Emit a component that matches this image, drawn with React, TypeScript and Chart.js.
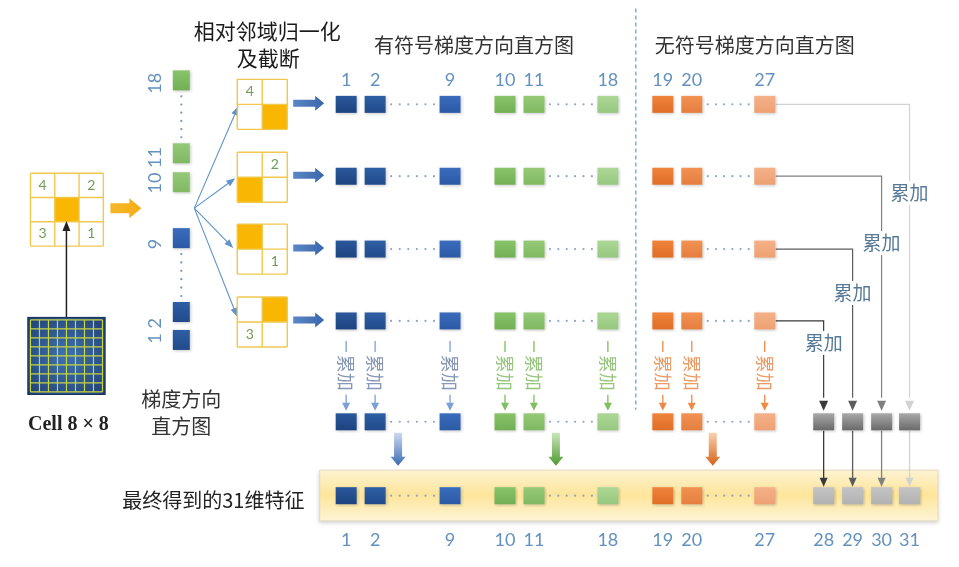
import React, { useEffect, useRef } from 'react';
import { Chart, registerables } from 'chart.js';
Chart.register(...registerables);

// ---------------- data ----------------
const signedBins = [1, 2, 9];
const signedBins2 = [10, 11, 18];
const unsignedBins = [19, 20, 27];
const textureBins = [28, 29, 30, 31];
const cellHistBins = [1, 2, 9, 10, 11, 18];
const cellHistLabels = ['1 2', '9', '10 11', '18'];
const normBlockLabels = ['4', '2', '1', '3'];
const neighbourLabels = ['4', '2', '3', '1'];
const titleNorm = ['相对邻域归一化', '及截断'];
const titleSigned = '有符号梯度方向直方图';
const titleUnsigned = '无符号梯度方向直方图';
const titleHist = ['梯度方向', '直方图'];
const titleCell = 'Cell 8 × 8';
const titleFinal = '最终得到的31维特征';
const accumText = '累加';

// ---------------- layout ----------------
const W = 959, H = 567;
const COL_X: Record<number, number> = {
  1: 346, 2: 375, 9: 450, 10: 505, 11: 534, 18: 608, 19: 663, 20: 692, 27: 765,
  28: 824, 29: 853, 30: 882, 31: 910,
};
const ROW_Y = [104, 176, 249, 321];
const ACC_Y = 422, FINAL_Y = 496, TOP_LABEL_Y = 80, BOTTOM_LABEL_Y = 541;
const HIST_X = 181;
const HIST_Y: Record<number, number> = { 18: 80, 11: 153, 10: 182, 9: 238, 2: 312, 1: 340 };
const HIST_LABEL_Y = [331, 244, 170, 83];
const GRID2_TOP = [79, 152, 224, 297];
const GRID2_LEFT = 237, CELL2 = 25;
const LABEL_Q = [0, 1, 3, 2];
const FILL_Q = [3, 2, 0, 1];
const TEX_FOR_ROW = [31, 30, 29, 28];
const TEX_LABEL_Y: Record<number, number> = { 31: 193, 30: 243, 29: 293, 28: 343 };

// ---------------- styles ----------------
const SQ_W = 21, SQ_H = 17;
const BIN_FILL: Record<number, [string, string]> = {
  1: ['#2b589b', '#1d4480'], 2: ['#2f5fa5', '#214b8b'], 9: ['#3b6dbd', '#2c5aa5'],
  10: ['#88c469', '#73af55'], 11: ['#95ca78', '#80b962'], 18: ['#acd895', '#98c880'],
  19: ['#f0843c', '#e06e27'], 20: ['#f29253', '#e57f3f'], 27: ['#f5b189', '#eea173'],
};
const ACC_GRAY: [string, string] = ['#a9a9a9', '#6a6a6a'];
const FINAL_GRAY: [string, string] = ['#c4c4c4', '#b2b2b2'];
const TEX_LINE: Record<number, string> = { 28: '#3a3a3a', 29: '#5c5c5c', 30: '#808080', 31: '#d2d2d2' };
const GROUP_STYLE = [
  { line: '#7b9fd8', text: '#8797b5', arrow: ['#cdd9ee', '#3b6cb6'] },
  { line: '#7fbf5d', text: '#97c67f', arrow: ['#cbe6b9', '#4d9a30'] },
  { line: '#ee8a48', text: '#eb9c66', arrow: ['#fad2b0', '#d5621a'] },
];
const NUM_COLOR = '#6391bf';
const CJK = '"Noto Sans CJK SC", "Noto Sans", sans-serif';
const NUMF = 'Lato, "Open Sans", sans-serif';
const GRID_COLOR = '#efc84c';
const ORANGE = '#f9b602';
const NUM_GREEN = '#6f9d57';

function makeSquare(w: number, h: number, c: [string, string]): HTMLCanvasElement {
  const pad = 3;
  const cv = document.createElement('canvas');
  cv.width = w + pad * 2;
  cv.height = h + pad * 2;
  const g = cv.getContext('2d')!;
  g.shadowColor = 'rgba(0,0,0,0.22)';
  g.shadowBlur = 3;
  g.shadowOffsetX = 1;
  g.shadowOffsetY = 1;
  const grad = g.createLinearGradient(0, pad, 0, pad + h);
  grad.addColorStop(0, c[0]);
  grad.addColorStop(1, c[1]);
  g.fillStyle = grad;
  g.fillRect(pad, pad, w, h);
  return cv;
}

type Ctx = CanvasRenderingContext2D;

function arrowHead(ctx: Ctx, x: number, y: number, a: number, len: number, w: number, color: string) {
  ctx.save();
  ctx.translate(x, y);
  ctx.rotate(a);
  ctx.beginPath();
  ctx.moveTo(0, 0);
  ctx.lineTo(-len, -w / 2);
  ctx.lineTo(-len, w / 2);
  ctx.closePath();
  ctx.fillStyle = color;
  ctx.fill();
  ctx.restore();
}

function arrow(ctx: Ctx, x1: number, y1: number, x2: number, y2: number, color: string, lw: number, len = 8, w = 7) {
  const a = Math.atan2(y2 - y1, x2 - x1);
  ctx.beginPath();
  ctx.moveTo(x1, y1);
  ctx.lineTo(x2 - Math.cos(a) * len * 0.8, y2 - Math.sin(a) * len * 0.8);
  ctx.strokeStyle = color;
  ctx.lineWidth = lw;
  ctx.stroke();
  arrowHead(ctx, x2, y2, a, len, w, color);
}

function blockArrow(ctx: Ctx, x1: number, y1: number, x2: number, y2: number, shaft: number, headW: number, headL: number, c0: string, c1: string) {
  const a = Math.atan2(y2 - y1, x2 - x1);
  const L = Math.hypot(x2 - x1, y2 - y1);
  ctx.save();
  ctx.translate(x1, y1);
  ctx.rotate(a);
  const g = ctx.createLinearGradient(0, 0, L, 0);
  g.addColorStop(0, c0);
  g.addColorStop(1, c1);
  ctx.beginPath();
  ctx.moveTo(0, -shaft / 2);
  ctx.lineTo(L - headL, -shaft / 2);
  ctx.lineTo(L - headL, -headW / 2);
  ctx.lineTo(L, 0);
  ctx.lineTo(L - headL, headW / 2);
  ctx.lineTo(L - headL, shaft / 2);
  ctx.lineTo(0, shaft / 2);
  ctx.closePath();
  ctx.fillStyle = g;
  ctx.fill();
  ctx.restore();
}

function text(ctx: Ctx, s: string, x: number, y: number, font: string, color: string, align: CanvasTextAlign = 'center') {
  ctx.font = font;
  ctx.fillStyle = color;
  ctx.textAlign = align;
  ctx.textBaseline = 'middle';
  ctx.fillText(s, x, y);
}

function dots(ctx: Ctx, x1: number, y1: number, x2: number, y2: number, n: number, color: string) {
  ctx.fillStyle = color;
  for (let i = 0; i < n; i++) {
    const t = n === 1 ? 0 : i / (n - 1);
    ctx.beginPath();
    ctx.arc(x1 + (x2 - x1) * t, y1 + (y2 - y1) * t, 1.1, 0, Math.PI * 2);
    ctx.fill();
  }
}

const diagramPlugin = {
  id: 'diagram',
  beforeDatasetsDraw(chart: any) {
    const ctx: Ctx = chart.ctx;
    const X = (v: number) => chart.scales.x.getPixelForValue(v);
    const Y = (v: number) => chart.scales.y.getPixelForValue(v);
    ctx.save();

    // ---- yellow band ----
    const bx = X(319), by = Y(470), bw = X(938) - bx, bh = Y(521) - by;
    ctx.save();
    ctx.shadowColor = 'rgba(0,0,0,0.18)';
    ctx.shadowBlur = 4;
    ctx.shadowOffsetY = 2;
    const bg = ctx.createLinearGradient(0, by, 0, by + bh);
    bg.addColorStop(0, '#fdf3d2');
    bg.addColorStop(0.5, '#fde59a');
    bg.addColorStop(1, '#fef4d6');
    ctx.fillStyle = bg;
    ctx.fillRect(bx, by, bw, bh);
    ctx.restore();
    ctx.strokeStyle = '#e3dcc4';
    ctx.lineWidth = 1;
    ctx.strokeRect(bx + 0.5, by + 0.5, bw, bh);

    // ---- dashed separator ----
    ctx.save();
    ctx.setLineDash([4, 3]);
    ctx.strokeStyle = '#6aa3d8';
    ctx.lineWidth = 1.3;
    ctx.beginPath();
    ctx.moveTo(X(636), Y(8));
    ctx.lineTo(X(636), Y(410));
    ctx.stroke();
    ctx.restore();

    // ---- titles ----
    text(ctx, titleNorm[0], X(267), Y(31), `21px ${CJK}`, '#1a1a1a');
    text(ctx, titleNorm[1], X(268), Y(58), `21px ${CJK}`, '#1a1a1a');
    text(ctx, titleSigned, X(474), Y(45), `20px ${CJK}`, '#333');
    text(ctx, titleUnsigned, X(755), Y(45), `20px ${CJK}`, '#333');
    text(ctx, titleHist[0], X(181), Y(400), `20px ${CJK}`, '#333');
    text(ctx, titleHist[1], X(181), Y(427), `20px ${CJK}`, '#333');
    text(ctx, titleCell, X(68), Y(425), `bold 20px "Liberation Serif", "DejaVu Serif", serif`, '#222');
    text(ctx, titleFinal, X(213), Y(501), `20px ${CJK}`, '#222');

    // ---- column number labels ----
    const mainBins = [...signedBins, ...signedBins2, ...unsignedBins];
    mainBins.forEach((b) => text(ctx, String(b), X(COL_X[b]), Y(TOP_LABEL_Y), `18px ${NUMF}`, NUM_COLOR));
    [...mainBins, ...textureBins].forEach((b) =>
      text(ctx, String(b), X(COL_X[b]), Y(BOTTOM_LABEL_Y), `18px ${NUMF}`, NUM_COLOR));

    // ---- dotted gaps in rows ----
    const rowsY = [...ROW_Y, ACC_Y, FINAL_Y];
    const groups = [signedBins, signedBins2, unsignedBins];
    rowsY.forEach((ry) => {
      groups.forEach((g) => {
        dots(ctx, X(COL_X[g[1]] + 16), Y(ry), X(COL_X[g[2]] - 16), Y(ry), 6, '#8aa6c8');
      });
    });

    // ---- cell histogram column ----
    cellHistLabels.forEach((s, i) => {
      ctx.save();
      ctx.translate(X(155), Y(HIST_LABEL_Y[i]));
      ctx.rotate(-Math.PI / 2);
      text(ctx, s, 0, 0, `18px ${NUMF}`, NUM_COLOR);
      ctx.restore();
    });
    dots(ctx, X(HIST_X), Y(HIST_Y[18] + 16), X(HIST_X), Y(HIST_Y[11] - 16), 6, '#6f95c4');
    dots(ctx, X(HIST_X), Y(HIST_Y[9] + 16), X(HIST_X), Y(HIST_Y[2] - 16), 6, '#6f95c4');

    // ---- left 3x3 neighbourhood ----
    const gx = X(30), gy = Y(173), c3 = 24.3;
    ctx.fillStyle = ORANGE;
    ctx.fillRect(gx + c3, gy + c3, c3, c3);
    ctx.strokeStyle = GRID_COLOR;
    ctx.lineWidth = 1.4;
    for (let i = 0; i <= 3; i++) {
      ctx.beginPath(); ctx.moveTo(gx + i * c3, gy); ctx.lineTo(gx + i * c3, gy + 3 * c3); ctx.stroke();
      ctx.beginPath(); ctx.moveTo(gx, gy + i * c3); ctx.lineTo(gx + 3 * c3, gy + i * c3); ctx.stroke();
    }
    const corners = [[0, 0], [2, 0], [0, 2], [2, 2]];
    neighbourLabels.forEach((s, i) => {
      text(ctx, s, gx + (corners[i][0] + 0.5) * c3, gy + (corners[i][1] + 0.5) * c3, `14px ${NUMF}`, NUM_GREEN);
    });

    // orange arrow
    blockArrow(ctx, X(110), Y(208), X(141), Y(208), 10, 20, 12, '#f7b62a', '#f5ae14');

    // ---- cell 8x8 image ----
    const cx = X(27), cy = Y(317), cs = 78;
    const cg = ctx.createRadialGradient(cx + cs / 2, cy + cs / 2, 5, cx + cs / 2, cy + cs / 2, cs * 0.7);
    cg.addColorStop(0, '#3b6fae');
    cg.addColorStop(1, '#1f3f72');
    ctx.fillStyle = cg;
    ctx.fillRect(cx, cy, cs, cs);
    ctx.strokeStyle = '#c9d443';
    ctx.lineWidth = 1.2;
    const m = 3, step = (cs - 2 * m) / 8;
    for (let i = 0; i <= 8; i++) {
      ctx.beginPath(); ctx.moveTo(cx + m + i * step, cy + m); ctx.lineTo(cx + m + i * step, cy + cs - m); ctx.stroke();
      ctx.beginPath(); ctx.moveTo(cx + m, cy + m + i * step); ctx.lineTo(cx + cs - m, cy + m + i * step); ctx.stroke();
    }
    ctx.strokeStyle = '#1a3560';
    ctx.lineWidth = 1;
    ctx.strokeRect(cx + 0.5, cy + 0.5, cs - 1, cs - 1);
    arrow(ctx, X(66), Y(317), X(66), Y(221), '#222', 1.5, 10, 8);

    // ---- fan arrows ----
    const fanTargets = [[238, 106], [235, 178], [233, 248], [237, 317]];
    fanTargets.forEach(([tx, ty]) => arrow(ctx, X(194), Y(208), X(tx), Y(ty), '#5f93c9', 1.1, 9, 7));

    // ---- 2x2 normalisation blocks ----
    GRID2_TOP.forEach((top, i) => {
      const x0 = X(GRID2_LEFT), y0 = Y(top);
      const fq = FILL_Q[i], lq = LABEL_Q[i];
      ctx.fillStyle = ORANGE;
      ctx.fillRect(x0 + (fq % 2) * CELL2, y0 + Math.floor(fq / 2) * CELL2, CELL2, CELL2);
      ctx.strokeStyle = GRID_COLOR;
      ctx.lineWidth = 1.4;
      for (let k = 0; k <= 2; k++) {
        ctx.beginPath(); ctx.moveTo(x0 + k * CELL2, y0); ctx.lineTo(x0 + k * CELL2, y0 + 2 * CELL2); ctx.stroke();
        ctx.beginPath(); ctx.moveTo(x0, y0 + k * CELL2); ctx.lineTo(x0 + 2 * CELL2, y0 + k * CELL2); ctx.stroke();
      }
      text(ctx, normBlockLabels[i], x0 + ((lq % 2) + 0.5) * CELL2, y0 + (Math.floor(lq / 2) + 0.5) * CELL2, `14px ${NUMF}`, NUM_GREEN);
      blockArrow(ctx, X(293), Y(ROW_Y[i] - 1), X(324), Y(ROW_Y[i] - 1), 7, 15, 9, '#5b86c6', '#3a66ad');
    });

    // ---- vertical accumulation arrows ----
    groups.forEach((g, gi) => {
      const st = GROUP_STYLE[gi];
      g.forEach((b) => {
        const x = X(COL_X[b]);
        ctx.strokeStyle = st.line;
        ctx.lineWidth = 1.3;
        ctx.beginPath(); ctx.moveTo(x, Y(341)); ctx.lineTo(x, Y(352)); ctx.stroke();
        ctx.save();
        ctx.translate(x, Y(373));
        ctx.rotate(Math.PI / 2);
        text(ctx, accumText, 0, 0, `18px ${CJK}`, st.text);
        ctx.restore();
        arrow(ctx, x, Y(395), x, Y(411), st.line, 1.3, 8, 8);
      });
      const ax = X([398, 556, 713][gi]);
      blockArrow(ctx, ax, Y(433), ax, Y(466), 8, 15, 9, st.arrow[0], st.arrow[1]);
    });

    // ---- texture connectors ----
    ROW_Y.forEach((ry, i) => {
      const t = TEX_FOR_ROW[i];
      const x = X(COL_X[t]);
      ctx.strokeStyle = TEX_LINE[t];
      ctx.lineWidth = 1.2;
      ctx.beginPath();
      ctx.moveTo(X(COL_X[27] + 11), Y(ry));
      ctx.lineTo(x, Y(ry));
      ctx.lineTo(x, Y(398));
      ctx.stroke();
      arrowHead(ctx, x, Y(411), Math.PI / 2, 10, 9, TEX_LINE[t]);
    });
    textureBins.forEach((t) => {
      const x = X(COL_X[t]), y = Y(TEX_LABEL_Y[t]);
      ctx.fillStyle = '#fff';
      ctx.fillRect(x - 21, y - 12, 42, 24);
      text(ctx, accumText, x, y, `19px ${CJK}`, '#56799a');
      arrow(ctx, x, Y(431), x, Y(487), TEX_LINE[t], 1.3, 9, 8);
    });

    ctx.restore();
  },
};

export default function App() {
  const ref = useRef<HTMLCanvasElement | null>(null);
  useEffect(() => {
    if (!ref.current) return;
    document.body.style.margin = '0';
    const cache: Record<string, HTMLCanvasElement> = {};
    const sq = (key: string, w: number, h: number, c: [string, string]) =>
      cache[key] || (cache[key] = makeSquare(w, h, c));

    const mainBins = [...signedBins, ...signedBins2, ...unsignedBins];
    const rowData: any[] = [];
    const rowStyles: any[] = [];
    [...ROW_Y, ACC_Y, FINAL_Y].forEach((ry) => {
      mainBins.forEach((b) => {
        rowData.push({ x: COL_X[b], y: ry });
        rowStyles.push(sq('b' + b, SQ_W, SQ_H, BIN_FILL[b]));
      });
    });
    const texData: any[] = [];
    const texStyles: any[] = [];
    textureBins.forEach((t) => {
      texData.push({ x: COL_X[t], y: ACC_Y });
      texStyles.push(sq('acc', SQ_W, SQ_H, ACC_GRAY));
      texData.push({ x: COL_X[t], y: FINAL_Y });
      texStyles.push(sq('fin', SQ_W, SQ_H, FINAL_GRAY));
    });
    const histData = cellHistBins.map((b) => ({ x: HIST_X, y: HIST_Y[b] }));
    const histStyles = cellHistBins.map((b) =>
      sq('h' + b, 17, 20, b >= 10 ? (b === 18 ? BIN_FILL[10] : BIN_FILL[11]) : (b === 9 ? BIN_FILL[9] : BIN_FILL[2])));

    const ds = (label: string, data: any[], styles: any[]) => ({
      label, data, pointStyle: styles, pointRadius: 0.5, pointHoverRadius: 0.5, showLine: false, clip: false,
      pointBackgroundColor: '#000', pointBorderWidth: 0,
    });

    const chart = new Chart(ref.current, {
      type: 'scatter',
      data: {
        datasets: [
          ds('histogram bins', rowData, rowStyles),
          ds('texture features', texData, texStyles),
          ds('cell histogram', histData, histStyles),
        ],
      },
      options: {
        responsive: false,
        devicePixelRatio: 1,
        animation: false,
        events: [],
        layout: { padding: 0 },
        scales: {
          x: { type: 'linear', min: 0, max: W, display: false },
          y: { type: 'linear', min: 0, max: H, reverse: true, display: false },
        },
        plugins: { legend: { display: false }, tooltip: { enabled: false } },
      },
      plugins: [diagramPlugin],
    } as any);
    return () => chart.destroy();
  }, []);

  return (
    <div style={{ position: 'fixed', left: 0, top: 0, width: W, height: H, background: '#fff' }}>
      <canvas ref={ref} width={W} height={H} style={{ display: 'block', width: W, height: H }} />
    </div>
  );
}
